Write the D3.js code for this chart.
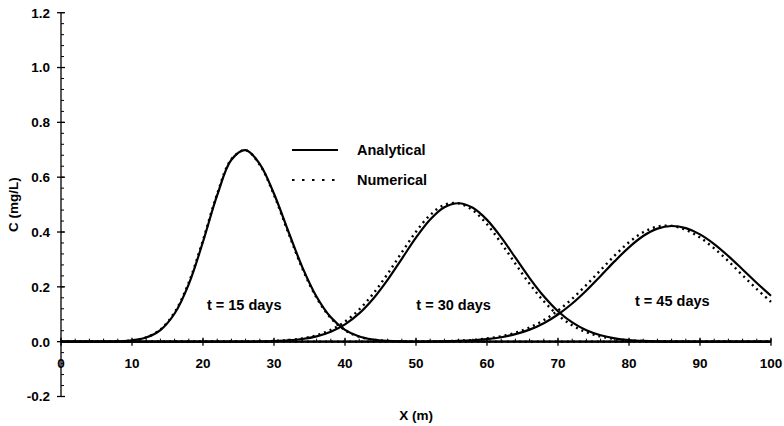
<!DOCTYPE html>
<html><head><meta charset="utf-8">
<script src="https://cdn.jsdelivr.net/npm/d3@7"></script>
<style>
body{margin:0;background:#fff;}
svg text{font-family:"Liberation Sans",Arial,Helvetica,sans-serif;fill:#000;}
</style></head>
<body><svg id="chart" width="784" height="426"></svg>
<script>
// ---- data ----
const xGrid = [0,2,4,6,8,10,12,14,16,18,20,22,24,26,28,30,32,34,36,38,40,42,44,46,48,50,52,54,56,58,60,62,64,66,68,70,72,74,76,78,80,82,84,86,88,90,92,94,96,98,100];
const analytical15 = [0,0,0,0,0.0011,0.0044,0.0149,0.0425,0.1027,0.2102,0.3644,0.5344,0.6637,0.6985,0.6479,0.5397,0.4037,0.2712,0.1637,0.0887,0.0432,0.0189,0.0074,0.0026,0.0008,0,0,0,0,0,0,0,0,0,0,0,0,0,0,0,0,0,0,0,0,0,0,0,0,0,0];
const numerical15  = [0,0,0,0,0.0012,0.0047,0.0158,0.0443,0.1070,0.2160,0.3705,0.5390,0.6660,0.6980,0.6450,0.5350,0.3985,0.2665,0.1600,0.0862,0.0418,0.0182,0.0071,0.0025,0.0008,0,0,0,0,0,0,0,0,0,0,0,0,0,0,0,0,0,0,0,0,0,0,0,0,0,0];
const analytical30 = [0,0,0,0,0,0,0,0,0,0,0,0,0,0,0.0008,0.0020,0.0046,0.0098,0.0195,0.0363,0.0632,0.1032,0.1577,0.2257,0.3024,0.3794,0.4457,0.4903,0.5050,0.4883,0.4443,0.3803,0.3063,0.2321,0.1655,0.1110,0.0701,0.0416,0.0232,0.0122,0.0060,0.0028,0.0012,0.0005,0,0,0,0,0,0,0];
const numerical30  = [0,0,0,0,0,0,0,0,0,0,0,0,0,0,0.0010,0.0026,0.0058,0.0120,0.0235,0.0429,0.0732,0.1174,0.1761,0.2474,0.3255,0.4009,0.4623,0.4992,0.5047,0.4792,0.4281,0.3596,0.2841,0.2110,0.1473,0.0967,0.0597,0.0346,0.0188,0.0096,0.0046,0.0021,0.0009,0.0004,0,0,0,0,0,0,0];
const analytical45 = [0,0,0,0,0,0,0,0,0,0,0,0,0,0,0,0,0,0,0,0,0,0,0,0,0,0,0.0006,0.0013,0.0026,0.0050,0.0092,0.0162,0.0273,0.0439,0.0675,0.0991,0.1392,0.1868,0.2397,0.2938,0.3442,0.3855,0.4125,0.4220,0.4141,0.3914,0.3561,0.3121,0.2634,0.2141,0.1675];
const numerical45  = [0,0,0,0,0,0,0,0,0,0,0,0,0,0,0,0,0,0,0,0,0,0,0,0,0,0,0.0008,0.0017,0.0033,0.0063,0.0114,0.0198,0.0328,0.0519,0.0785,0.1134,0.1567,0.2069,0.2611,0.3147,0.3625,0.3992,0.4198,0.4223,0.4080,0.3798,0.3402,0.2936,0.2420,0.1920,0.1450];
const xTicks = [0,10,20,30,40,50,60,70,80,90,100];
const yTicks = [-0.2,0.0,0.2,0.4,0.6,0.8,1.0,1.2];
const curveLabels = ["t = 15 days","t = 30 days","t = 45 days"];
const labelX = [25.8,55.3,86.1];
const labelY = [0.134,0.134,0.148];
const legendNames = ["Analytical","Numerical"];

// ---- drawing ----
const W = 784, H = 426;
const m = {left:61, right:13, top:12.7, bottom:29.5};
const svg = d3.select("#chart");
const x = d3.scaleLinear().domain([0,100]).range([m.left, W - m.right]);
const y = d3.scaleLinear().domain([-0.2,1.2]).range([H - m.bottom, m.top]);

// y axis line
svg.append("line").attr("x1",x(0)).attr("x2",x(0)).attr("y1",y(1.2)).attr("y2",y(-0.2))
  .attr("stroke","#000").attr("stroke-width",1.3);
// y minor ticks
d3.range(-0.2,1.2001,0.04).forEach(v=>{
  svg.append("line").attr("x1",x(0)).attr("x2",x(0)+3).attr("y1",y(v)).attr("y2",y(v))
    .attr("stroke","#000").attr("stroke-width",1);
});
// y major ticks + labels
yTicks.forEach(v=>{
  svg.append("line").attr("x1",x(0)-4).attr("x2",x(0)+4).attr("y1",y(v)).attr("y2",y(v))
    .attr("stroke","#000").attr("stroke-width",1.3);
  svg.append("text").attr("x",50).attr("y",y(v)).attr("dy","0.36em")
    .attr("text-anchor","end").attr("font-size",13.5).attr("font-weight","bold")
    .text(v.toFixed(1));
});
// x axis line at y=0
svg.append("line").attr("x1",x(0)).attr("x2",x(100)).attr("y1",y(0)).attr("y2",y(0))
  .attr("stroke","#000").attr("stroke-width",1.6);
d3.range(0,100.01,2).forEach(v=>{
  svg.append("line").attr("x1",x(v)).attr("x2",x(v)).attr("y1",y(0)).attr("y2",y(0)-3)
    .attr("stroke","#000").attr("stroke-width",1);
});
xTicks.forEach(v=>{
  svg.append("line").attr("x1",x(v)).attr("x2",x(v)).attr("y1",y(0)-4).attr("y2",y(0)+4)
    .attr("stroke","#000").attr("stroke-width",1.3);
  svg.append("text").attr("x",x(v)).attr("y",y(0)+21).attr("dy","0.36em")
    .attr("text-anchor","middle").attr("font-size",13.5).attr("font-weight","bold")
    .text(v);
});
// axis titles
svg.append("text").attr("x",x(50)).attr("y",415).attr("dy","0.36em")
  .attr("text-anchor","middle").attr("font-size",13.5).attr("font-weight","bold").text("X (m)");
svg.append("text").attr("transform",`translate(13,${y(0.5)}) rotate(-90)`).attr("dy","0.36em")
  .attr("text-anchor","middle").attr("font-size",13.5).attr("font-weight","bold").text("C (mg/L)");

// curves
const line = d3.line().x(d=>x(d[0])).y(d=>y(d[1])).curve(d3.curveCatmullRom.alpha(0.5));
const toPts = arr => xGrid.map((xv,i)=>[xv,arr[i]]);
[analytical15,analytical30,analytical45].forEach(a=>{
  svg.append("path").attr("d",line(toPts(a))).attr("fill","none")
    .attr("stroke","#000").attr("stroke-width",2.2);
});
[numerical15,numerical30,numerical45].forEach(a=>{
  svg.append("path").attr("d",line(toPts(a))).attr("fill","none")
    .attr("stroke","#000").attr("stroke-width",2.4).attr("stroke-dasharray","2,4");
});

// curve labels
curveLabels.forEach((t,i)=>{
  svg.append("text").attr("x",x(labelX[i])).attr("y",y(labelY[i])).attr("dy","0.36em")
    .attr("text-anchor","middle").attr("font-size",14.5).attr("font-weight","bold").text(t);
});

// legend
const lg = svg.append("g");
lg.append("line").attr("x1",292).attr("x2",338).attr("y1",150).attr("y2",150)
  .attr("stroke","#000").attr("stroke-width",2);
lg.append("line").attr("x1",292).attr("x2",338).attr("y1",180).attr("y2",180)
  .attr("stroke","#000").attr("stroke-width",2).attr("stroke-dasharray","2.5,7.5");
legendNames.forEach((n,i)=>{
  lg.append("text").attr("x",357).attr("y",150+30*i).attr("dy","0.36em")
    .attr("font-size",14.5).attr("font-weight","bold").text(n);
});
</script></body></html>
